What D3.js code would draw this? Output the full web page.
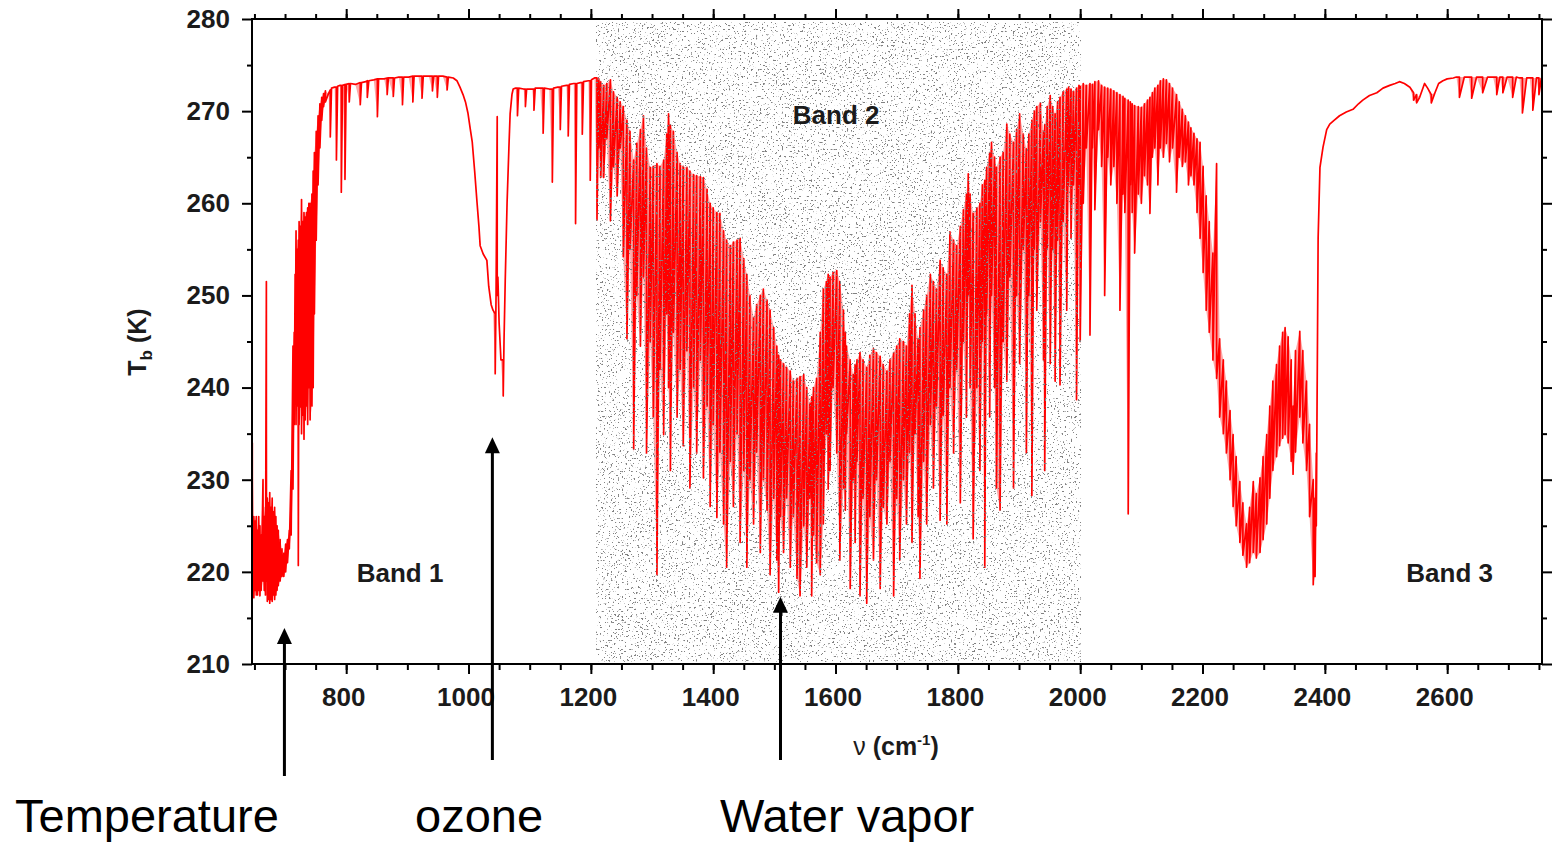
<!DOCTYPE html>
<html>
<head>
<meta charset="utf-8">
<title>Brightness temperature spectrum</title>
<style>
  body { margin: 0; background: #fff; }
  svg { display: block; font-family: "Liberation Sans", Arial, sans-serif; }
  .tick text { font-weight: bold; font-size: 26px; fill: #1b1b1b; }
  .tick line { stroke: #000; stroke-width: 2; }
</style>
<script src="https://cdn.jsdelivr.net/npm/d3@7"></script>
</head>
<body>
<svg id="chart" width="1552" height="842"></svg>
<script>
// spectrum rows: [wavenumber, upper Tb, lower Tb]; a row with two values is a plain point
const specBand1 = [
  [646.5,234,217.5],[649,226,217.2],[651,225.5,218],[653,226,217.5],[655,224.5,217.5],[657,226,218],
  [659,225,217.4],[661,224,218],[664,230,219],[666,226,218],[668,227,217.5],[669.5,251.5,219],
  [671,228,216.8],[673,227.5,217],[675,228.6,216.6],[677,227,217],[679,228,216.8],[681,226.5,217.5],
  [683,227,217],[685,226,217.5],[687,225,218],[689,224.5,218.5],[692,223.5,219],[695,222.5,219.5],
  [698,222,219.5],[701,223,220],[704,223.5,221],[707,224.5,222.5],[710,231,224],[713,244.5,229],
  [715,246,236],[716.5,252.3,240],[718,257,236],[720,255,238],[721.7,256,220.7],[723,258,236],
  [725,257.5,237.9],[727,260.4,235],[729,258,237],[731,259,234.4],[733,258.5,236.5],[735,259,238],
  [737,259.5,236],[739,260,240],[741,260,236.5],[744,261,238],[746,263.5,240],[748,265.5,248],
  [751,267.8,256],[754,269.5,262],[757,270.8,266],[760,271.5,269],[763,271.9,270.5],[766,272.2,271],
  [771,271.9],[774,272.3,267.2],[776,272.5],[781,272.6],[784,272.6,264.7],[786,272.7],[790,272.8],
  [792,272.8,261.2],[794,272.8],[798,272.9,262.6],[800,272.9],[805,273,271],[807,273],[815,272.9],
  [823,273.1,270.7],[825,273.1],[832,273.2],[834.5,273.3,271.5],[837,273.3],[845,273.4],
  [851,273.5,269.4],[853,273.5],[862,273.5],[867,273.6,271.8],[869,273.6],[877,273.6,271.6],
  [879,273.6],[886,273.7],[892,273.7,270.7],[894,273.7],[902,273.7],[909,273.8,271],[911,273.8],
  [918,273.8],[924,273.8,271.4],[926,273.8],[935,273.8],[941,273.8,272.2],[943,273.8],
  [949,273.8,271.5],[951,273.8],[958,273.8],[965,273.7,272.3],[967,273.7],[975,273.6],[981,273.3],
  [986,272.6],[991,271.8],[995,271],[999,269.8],[1003,268],[1006,266.7],[1010,263.5],[1014,260],
  [1017,257.5],[1019,255.4],[1024,254.5],[1030,253.8],[1033,251],[1037,249],[1040,248.4],
  [1043.6,248,241.5],[1045,250],[1046.9,269.4,250],[1048,252],[1050,247],[1053,243],
  [1056.7,243,239.1],[1058,245],[1060,251.6],[1063,260],[1066,266],[1068,269.7],[1071,271.8],
  [1073,272.4],[1077,272.5],[1080,272.5,269.5],[1082,272.5],[1090,272.4],[1093,272.4,270.5],
  [1095,272.4],[1104,272.4],[1107,272.4,270.1],[1109,272.5],[1117,272.5],[1122,272.5,267.6],
  [1124,272.5],[1132,272.4],[1137,272.4,262.3],[1139,272.5],[1146,272.6],[1150,272.6,268],
  [1152,272.7],[1160,272.8],[1163,272.8,267.3],[1165,272.9],[1172,273],[1175,273,257.8],[1177,273],
  [1183,273.1],[1186,273.1,267.5],[1188,273.2],[1196,273.3],[1199,273.3,262.5],[1201,273.4],
  [1206,273.6]
];

const specBand2 = [
  [1210,273.6,258.2],[1213,273.5,266],[1216,273.2,262.8],[1221,272.8,262.8],[1226,273,267],
  [1232,273.4,258.1],[1237,272.1,264],[1243,271.5,260.8],[1248,271,266],[1253,270.5,254.2],
  [1259,269,245.3],[1264,267.8,255],[1270,264.7,233.3],[1275,266.5,250],[1281,268,244.5],
  [1286,269.5,252],[1291,266,232.9],[1297,263.9,245],[1302,264,236.8],[1308,264.3,219.7],
  [1313,264,242],[1319,264.7,234.9],[1324,267.5,248],[1327,269.7,240],[1330,268.5,231],
  [1335,267.8,246],[1341,265.5,236.8],[1346,264.3,242],[1351,264,233.7],[1357,263.9,244],
  [1362,263.5,229.1],[1368,263.1,240],[1373,263,232.9],[1379,262.9,243],[1384,262.8,230.2],
  [1390,261.5,238],[1395,260,227.1],[1400,259.5,236],[1406,259,225.9],[1411,258.9,233],
  [1417,257,225.2],[1422,256,220.5],[1428,255.4,232],[1433,255.8,227.1],[1439,256,235],
  [1444,256.2,223.2],[1450,254,231],[1455,252.3,220.5],[1460,250,230],[1466,247.6,225.2],
  [1471,249,233],[1477,250,222.1],[1482,250.7,230],[1488,249.5,226.7],[1493,248.4,219.7],
  [1499,246.5,228],[1504,244.5,221.3],[1507,243.5,217.8],[1510,243,226],[1515,242.6,222.1],
  [1520,242.2,228],[1526,241.8,220.5],[1531,240.7,226],[1537,241,219.3],[1542,241.2,217.4],
  [1548,241.4,225],[1553,240,220.5],[1558,238.3,228],[1561,239,217.4],[1564,240,224],
  [1569,241,221],[1575,246,219.7],[1580,250.7,225.2],[1585,251.5,235],[1588,252.3,229],
  [1591,252,231],[1596,252.5,240],[1602,252.7,232.9],[1607,251.5,221.3],[1613,248.4,229.1],
  [1616,246,226.7],[1618,244.5,235],[1624,243,218.2],[1629,241.4,230],[1632,242.5,223.2],
  [1635,243,232],[1640,243.8,217.4],[1645,243,228],[1651,242.2,216.6],[1656,243.5,226],
  [1662,244.2,221.3],[1667,243.8,230],[1673,243.4,218.2],[1678,242.5,227],[1684,241.8,225.2],
  [1689,243,232],[1695,243.8,217.4],[1700,244.5,228],[1705,245.3,221.3],[1711,245,230],
  [1716,244.5,225.2],[1721,248,233],[1725,251.1,223.2],[1730,248,235],[1735,245.3,226],
  [1738,246.5,219.3],[1744,248.4,232],[1749,250,225.2],[1755,252.3,236],[1760,251.5,229.1],
  [1765,250.7,238],[1771,253.8,225.6],[1776,253,237],[1782,252.3,225.2],[1787,256.9,240],
  [1793,256,232.9],[1798,255.4,242],[1804,257.5,227.5],[1809,259.3,245],[1814,261,236.8],
  [1817,263.2,250],[1820,261,240],[1825,258.9,223.6],[1831,259.5,240],[1836,260,231],
  [1840,262,245],[1844,262.5,220.5],[1847,263.9,248],[1852,265.5,236.8],[1855,266.6,250],
  [1860,265,240],[1863,263.9,229.1],[1869,265,226.7],[1874,265.5,245],[1880,268.6,240.7],
  [1885,267.5,252],[1891,266.6,229.1],[1896,268,250],[1901,269.7,242.6],[1907,267.5,255],
  [1912,265.9,232.9],[1916,267.5,250],[1921,269,228.3],[1925,270,255],[1929,270.5,248.4],
  [1935,270.9,258],[1940,267.8,243],[1942,268.5,231],[1946,270.5,255],[1951,271.7,242.6],
  [1955,270.5,255],[1959,269.7,240.7],[1963,271,256],[1967,271.5,240.3],[1972,272.1,258],
  [1978,272.4,248.4],[1981,272.6,262],[1985,272.4,256.2],[1989,272.1,262],[1994,272.5,238.7],
  [1998,272.8,262]
];

const specBand3 = [
  [2000,272.7,245],[2005,273,260],[2010,272.8,266],[2016,273,245.7],[2020,272.9,266],
  [2024,273.2,259.3],[2030,273.3,268],[2035,272.8,264],[2040,272.6,250],[2045,272.5,265],
  [2050,272.4,262],[2055,272.2,264],[2060,272,260],[2065,271.8,248.4],[2070,271.6,261],
  [2073,271.4,259],[2078.5,271.2,226.3],[2082,271,262],[2085,270.8,259],[2089,270.6,254.6],
  [2095,270.5,261],[2100,270.4,260],[2105,270.8,263],[2110,271.2,262],[2114,271.5,258.9],
  [2118,272,265],[2122,272.5,266],[2127,272.8,262],[2131,273.3,266],[2136,273.5,265],
  [2141,273.4,266.5],[2146,273,264.5],[2151,272.5,266],[2157.5,271.8,261.2],[2162,271,265],
  [2167,270.2,264],[2172,269.5,264.5],[2177,268.8,262],[2181,268.2,263],[2186,267.6,262],
  [2191,267,259],[2196,266.6,256.2],[2201,264,252.5],[2206,260.8,248.4],[2211,258,246],
  [2217,254.6,243],[2223,264.3,241],[2228,245.3,236.8],[2234,243,235],[2239,240.7,232.9],
  [2245,237.5,230],[2250,234.9,227.1],[2255,232.5,225],[2261,229.8,223.2],[2266,227.5,221.8],
  [2272,225.2,220.5],[2277,227,221],[2283,229.8,222.1],[2288,228.5,221.5],[2294,230.2,222.1],
  [2299,232.5,223.5],[2305,234.9,225.2],[2310,238,228],[2315,240.7,231],[2321,242.5,232.5],
  [2326,244.5,233.7],[2331,246,234.5],[2335,246.5,234.9],[2340,245.5,234],[2345,243,232],
  [2348,238,230.6],[2352,244,233],[2359,246.1,236.8],[2364,244,234],[2370,240.7,231],
  [2375,236,226],[2381,230,218.6],[2384,228,219.5],[2386,232.9,225],[2389,256.2],[2392,263.9],
  [2397,266.1],[2403,268],[2408,268.6],[2415,269],[2424,269.5],[2435,269.9],[2446,270.2],
  [2455,270.8],[2462,271.2],[2473,271.7],[2485,272],[2495,272.5],[2506,272.8],[2515,273],
  [2522,273.2],[2530,273],[2539,272.6],[2545,272,271.2],[2550,271.8,270.9],[2555,271.5],
  [2563,273],[2568,272.5],[2574,271.8,270.9],[2580,272],[2586,273],[2593,273.3],[2600,273.5],
  [2610,273.6],[2615,273.7],[2620,273.7,271.5],[2628,273.7],[2635,273.7],[2640,273.7,271.4],
  [2648,273.7],[2658,273.7,272],[2666,273.7],[2675,273.7],[2681,273.7,271.8],[2686,273.7],
  [2691,273.7,272],[2698,273.7],[2707,273.7,271.5],[2713,273.7],[2718,273.6],[2723,273.6,269.8],
  [2730,273.6],[2735,273.6],[2740,273.6,270.1],[2746,273.6],[2750,273.6,271.8],[2754,273.6]
];

const xMajor = [800, 1000, 1200, 1400, 1600, 1800, 2000, 2200, 2400, 2600];
const yMajor = [210, 220, 230, 240, 250, 260, 270, 280];
const band2Range = [1210, 2000];
const bandNames = ['Band 1', 'Band 2', 'Band 3'];
const featureNames = ['Temperature', 'ozone', 'Water vapor'];
const featureNu = [699, 1039, 1510];
const featureTb = [213.9, 234.6, 217.3];

const svg = d3.select('#chart');
const pl = 252, pr = 1542, pt = 19, pb = 664;

const x = d3.scaleLinear().domain([646, 2755]).range([pl, pr]);
const y = d3.scaleLinear().domain([210, 280]).range([pb, pt]);

const defs = svg.append('defs');
defs.append('clipPath').attr('id', 'plot')
  .append('rect').attr('x', pl).attr('y', pt).attr('width', pr - pl).attr('height', pb - pt);

const stip = defs.append('filter').attr('id', 'stipple')
  .attr('x', 0).attr('y', 0).attr('width', 1).attr('height', 1);
stip.append('feTurbulence').attr('type', 'fractalNoise').attr('baseFrequency', 0.55)
  .attr('numOctaves', 2).attr('seed', 5).attr('result', 'n');
stip.append('feColorMatrix').attr('type', 'matrix')
  .attr('values', '0 0 0 0 0.22  0 0 0 0 0.22  0 0 0 0 0.22  15 0 0 0 -9.6');

const g = svg.append('g').attr('clip-path', 'url(#plot)');

// spectrum
const rows = [...specBand1, ...specBand2, ...specBand3];
g.append('path')
  .datum(rows)
  .attr('d', d3.area().x(d => x(d[0])).y0(d => y(d.length > 2 ? d[2] : d[1])).y1(d => y(d[1])))
  .attr('fill', '#ff0000')
  .attr('fill-opacity', 0.35);

const pts = [];
rows.forEach(r => {
  pts.push([r[0], r[1]]);
  if (r.length > 2) pts.push([r[0], r[2]]);
});
g.append('path')
  .datum(pts)
  .attr('d', d3.line().x(d => x(d[0])).y(d => y(d[1])))
  .attr('fill', 'none')
  .attr('stroke', '#ff0000')
  .attr('stroke-width', 1.7)
  .attr('stroke-linejoin', 'round');

// band 2 stipple, drawn over the trace
g.append('rect')
  .attr('x', x(band2Range[0])).attr('y', pt + 3)
  .attr('width', x(band2Range[1]) - x(band2Range[0]))
  .attr('height', pb - pt - 5)
  .attr('filter', 'url(#stipple)');

// axes
const xMinor = d3.range(650, 2751, 50);
const yMinor = d3.range(215, 280, 10);
const clean = a => a.select('.domain').remove();

svg.append('g').attr('transform', `translate(0,${pb})`)
  .call(d3.axisBottom(x).tickValues(xMinor).tickSize(6).tickFormat('')).call(clean);
svg.append('g').attr('transform', `translate(0,${pb})`)
  .call(d3.axisBottom(x).tickValues(xMajor).tickSize(10).tickPadding(14).tickFormat(d3.format('d'))).call(clean)
  .selectAll('text').attr('dx', -3);
svg.append('g').attr('transform', `translate(0,${pt})`)
  .call(d3.axisTop(x).tickValues(xMinor).tickSize(5).tickFormat('')).call(clean);
svg.append('g').attr('transform', `translate(0,${pt})`)
  .call(d3.axisTop(x).tickValues(xMajor).tickSize(10).tickFormat('')).call(clean);
svg.append('g').attr('transform', `translate(${pl},0)`)
  .call(d3.axisLeft(y).tickValues(yMinor).tickSize(5).tickFormat('')).call(clean);
svg.append('g').attr('transform', `translate(${pl},0)`)
  .call(d3.axisLeft(y).tickValues(yMajor).tickSize(10).tickPadding(12)).call(clean);
svg.append('g').attr('transform', `translate(${pr},0)`)
  .call(d3.axisRight(y).tickValues(yMinor).tickSize(5).tickFormat('')).call(clean);
svg.append('g').attr('transform', `translate(${pr},0)`)
  .call(d3.axisRight(y).tickValues(yMajor).tickSize(10).tickFormat('')).call(clean);

svg.append('rect')
  .attr('x', pl).attr('y', pt).attr('width', pr - pl).attr('height', pb - pt)
  .attr('fill', 'none').attr('stroke', '#000').attr('stroke-width', 2);

// band labels
const bandPos = [[888, 219.9], [1601, 269.6], [2604, 219.9]];
svg.selectAll('.band').data(bandNames).join('text')
  .attr('class', 'band')
  .attr('x', (d, i) => x(bandPos[i][0]))
  .attr('y', (d, i) => y(bandPos[i][1]))
  .attr('dy', '0.36em')
  .attr('text-anchor', 'middle')
  .style('font-weight', 'bold').style('font-size', '26px').style('fill', '#1b1b1b')
  .text(d => d);

// axis titles
const yt = svg.append('text')
  .attr('transform', 'translate(146,342) rotate(-90)')
  .attr('text-anchor', 'middle')
  .style('font-weight', 'bold').style('font-size', '25px').style('fill', '#1b1b1b');
yt.append('tspan').text('T');
yt.append('tspan').attr('dy', 6).style('font-size', '17px').text('b');
yt.append('tspan').attr('dy', -6).text(' (K)');

const xt = svg.append('text')
  .attr('x', 896).attr('y', 755)
  .attr('text-anchor', 'middle')
  .style('font-weight', 'bold').style('font-size', '25px').style('fill', '#1b1b1b');
xt.append('tspan').style('font-weight', 'normal').text('ν');
xt.append('tspan').text(' (cm');
xt.append('tspan').attr('dy', -10).style('font-size', '15px').text('-1');
xt.append('tspan').attr('dy', 10).text(')');

// feature arrows
const arrowEnd = [776, 760, 760];
featureNames.forEach((name, i) => {
  const ax = x(featureNu[i]);
  const tip = y(featureTb[i]);
  svg.append('line')
    .attr('x1', ax).attr('x2', ax).attr('y1', arrowEnd[i]).attr('y2', tip + 12)
    .attr('stroke', '#000').attr('stroke-width', 3);
  svg.append('path')
    .attr('d', `M${ax},${tip}L${ax - 7.5},${tip + 16}L${ax + 7.5},${tip + 16}Z`)
    .attr('fill', '#000');
});

const labelX = [15, 415, 720];
svg.selectAll('.feat').data(featureNames).join('text')
  .attr('class', 'feat')
  .attr('x', (d, i) => labelX[i])
  .attr('y', 832)
  .style('font-size', '47px').style('fill', '#000')
  .text(d => d);
</script>
</body>
</html>
